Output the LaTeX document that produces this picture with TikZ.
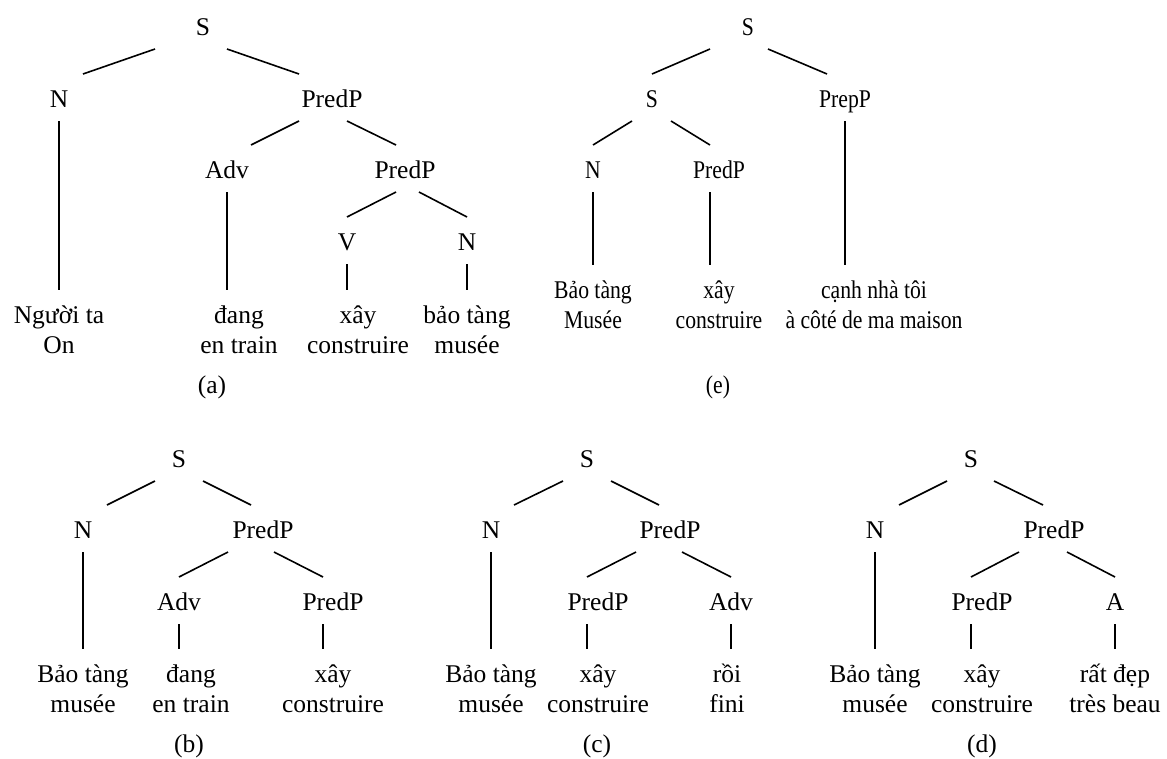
\documentclass[tikz,border=0pt]{standalone}
\usepackage{fontspec}
\setmainfont{Liberation Serif}
\newfontfamily\narrowserif{Liberation Serif}[FakeStretch=0.85]
\usetikzlibrary{calc}
\newcommand{\treefont}{\fontsize{25.5}{30.5}\selectfont}
\newcommand{\narrowfont}{\narrowserif\fontsize{25.5}{30.5}\selectfont}
% branch between two labels, stem down to a two-line leaf
\newcommand{\branch}[4]{\draw ($(#1.base)+(#2,14)$) -- ($(#3.base)+(#4,-33)$);}
\newcommand{\stem}[4]{\draw ($(#1.base)+(#2,14)$) -- ($(#3.base)+(#4,-63.5)$);}
\tikzset{narrow/.style={font=\narrowfont}}
\begin{document}
\begin{tikzpicture}[x=1pt, y=-1pt, line width=1.6pt, every node/.style={anchor=base, inner sep=0pt, align=center, font=\treefont}]
    \useasboundingbox (0,0) rectangle (1167,758);
    % Nodes (a)
    \node (aS) at (203,35) {S};
    \node (aN) at (59,107) {N};
    \node (aPredP) at (332,107) {PredP};
    \node (aAdv) at (227,178) {Adv};
    \node (aPredPb) at (405,178) {PredP};
    \node (aV) at (347,250) {V};
    \node (aNb) at (467,250) {N};
    \node (aL1) at (59,353.5) {Người ta\\On};
    \node (aL2) at (239,353.5) {đang\\en train};
    \node (aL3) at (358,353.5) {xây\\construire};
    \node (aL4) at (467,353.5) {bảo tàng\\musée};
    \node (acap) at (212,393) {(a)};
    % Nodes (e)
    \node[narrow] (eS) at (748,35) {S};
    \node[narrow] (eSb) at (652,107) {S};
    \node[narrow] (ePrepP) at (845,107) {PrepP};
    \node[narrow] (eN) at (593,178) {N};
    \node[narrow] (ePredP) at (719,178) {PredP};
    \node[narrow] (eL1) at (593,328.5) {Bảo tàng\\Musée};
    \node[narrow] (eL2) at (719,328.5) {xây\\construire};
    \node[narrow] (eL3) at (874,328.5) {cạnh nhà tôi\\à côté de ma maison};
    \node[narrow] (ecap) at (718,393) {(e)};
    % Nodes (b)
    \node (bS) at (179,467) {S};
    \node (bN) at (83,538) {N};
    \node (bPredP) at (263,538) {PredP};
    \node (bAdv) at (179,610) {Adv};
    \node (bPredPb) at (333,610) {PredP};
    \node (bL1) at (83,712.5) {Bảo tàng\\musée};
    \node (bL2) at (191,712.5) {đang\\en train};
    \node (bL3) at (333,712.5) {xây\\construire};
    \node (bcap) at (189,752) {(b)};
    % Nodes (c)
    \node (cS) at (587,467) {S};
    \node (cN) at (491,538) {N};
    \node (cPredP) at (670,538) {PredP};
    \node (cPredPb) at (598,610) {PredP};
    \node (cAdv) at (731,610) {Adv};
    \node (cL1) at (491,712.5) {Bảo tàng\\musée};
    \node (cL2) at (598,712.5) {xây\\construire};
    \node (cL3) at (727,712.5) {rồi\\fini};
    \node (ccap) at (597,752) {(c)};
    % Nodes (d)
    \node (dS) at (971,467) {S};
    \node (dN) at (875,538) {N};
    \node (dPredP) at (1054,538) {PredP};
    \node (dPredPb) at (982,610) {PredP};
    \node (dA) at (1115,610) {A};
    \node (dL1) at (875,712.5) {Bảo tàng\\musée};
    \node (dL2) at (982,712.5) {xây\\construire};
    \node (dL3) at (1115,712.5) {rất đẹp\\très beau};
    \node (dcap) at (982,752) {(d)};

    % Paths (a)
    \branch{aS}{-48}{aN}{24}
    \branch{aS}{24}{aPredP}{-33}
    \stem{aN}{0}{aL1}{0}
    \branch{aPredP}{-33}{aAdv}{24}
    \branch{aPredP}{15}{aPredPb}{-9}
    \stem{aAdv}{0}{aL2}{-12}
    \branch{aPredPb}{-9}{aV}{0}
    \branch{aPredPb}{14}{aNb}{0}
    \stem{aV}{0}{aL3}{-11}
    \stem{aNb}{0}{aL4}{0}
    % Paths (e)
    \branch{eS}{-38}{eSb}{0}
    \branch{eS}{20}{ePrepP}{-18}
    \stem{ePrepP}{0}{eL3}{-29}
    \branch{eSb}{-20}{eN}{0}
    \branch{eSb}{19}{ePredP}{-9}
    \stem{eN}{0}{eL1}{0}
    \stem{ePredP}{-9}{eL2}{-9}
    % Paths (b)
    \branch{bS}{-24}{bN}{24}
    \branch{bS}{24}{bPredP}{-12}
    \stem{bN}{0}{bL1}{0}
    \branch{bPredP}{-35}{bAdv}{0}
    \branch{bPredP}{11}{bPredPb}{-10}
    \stem{bAdv}{0}{bL2}{-12}
    \stem{bPredPb}{-10}{bL3}{-10}
    % Paths (c)
    \branch{cS}{-24}{cN}{23}
    \branch{cS}{24}{cPredP}{-11}
    \stem{cN}{0}{cL1}{0}
    \branch{cPredP}{-34}{cPredPb}{-11}
    \branch{cPredP}{12}{cAdv}{0}
    \stem{cPredPb}{-11}{cL2}{-11}
    \stem{cAdv}{0}{cL3}{4}
    % Paths (d)
    \branch{dS}{-24}{dN}{24}
    \branch{dS}{23}{dPredP}{-11}
    \stem{dN}{0}{dL1}{0}
    \branch{dPredP}{-35}{dPredPb}{-11}
    \branch{dPredP}{13}{dA}{0}
    \stem{dPredPb}{-11}{dL2}{-11}
    \stem{dA}{0}{dL3}{0}
  \end{tikzpicture}
\end{document}
